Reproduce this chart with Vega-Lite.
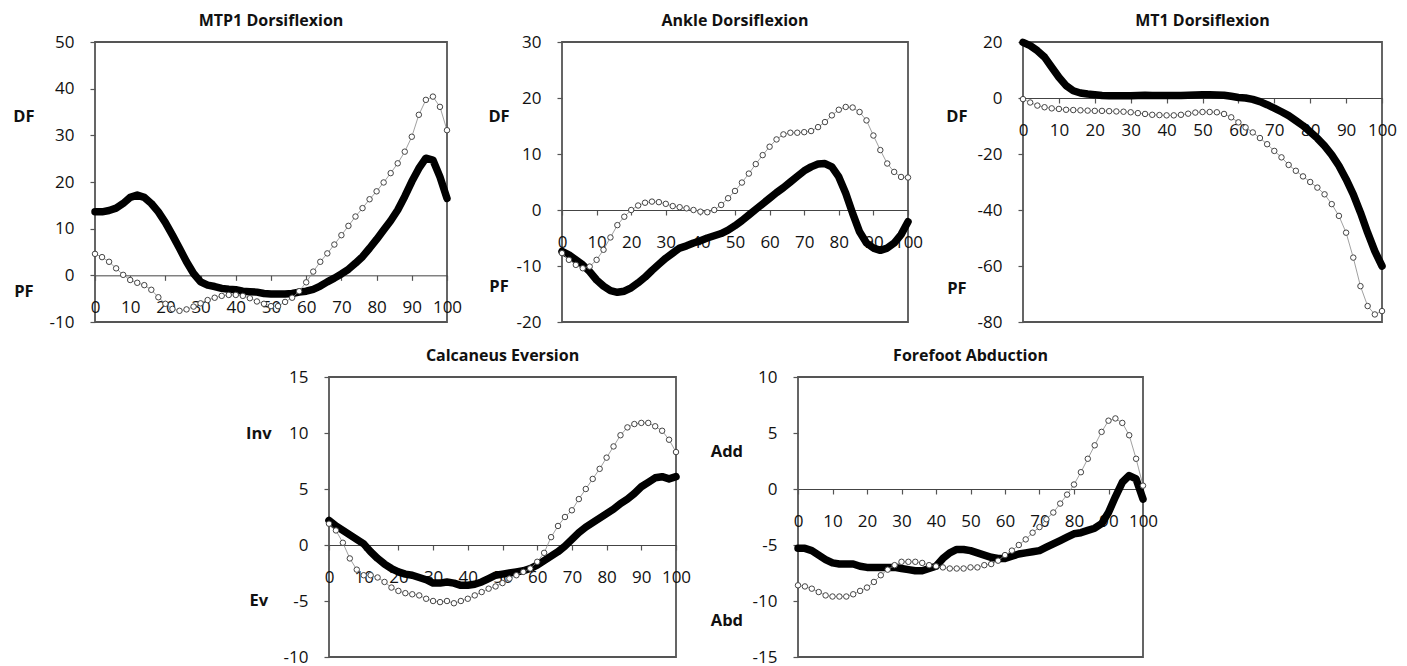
{
  "$schema": "https://vega.github.io/schema/vega-lite/v6.json",
  "background": "white",
  "padding": {"left": 12, "top": 12, "right": 0, "bottom": 0},
  "config": {
    "font": "Open Sans",
    "view": {"stroke": "#555", "strokeWidth": 1.8},
    "axis": {"grid": false, "labelFont": "Open Sans", "labelFontSize": 17, "labelColor": "#111", "tickColor": "#555", "domainColor": "#444", "tickSize": 5, "tickWidth": 1.2},
    "axisY": {"labelExpr": "datum.value < 0 ? '-' + abs(datum.value) : '' + datum.value"},
    "title": {"font": "Open Sans", "fontSize": 16, "fontWeight": "bold", "color": "#111", "offset": 4, "anchor": "middle"},
    "text": {"font": "Open Sans", "fontSize": 16.5, "fontWeight": "bold", "color": "#111"}
  },
  "datasets": {
    "mtp1": [
      {"x":0,"a":13.6,"b":4.6},{"x":2,"a":13.6,"b":3.9},{"x":4,"a":13.9,"b":2.9},{"x":6,"a":14.4,"b":1.5},{"x":8,"a":15.4,"b":0.1},
      {"x":10,"a":16.7,"b":-1.0},{"x":12,"a":17.2,"b":-1.6},{"x":14,"a":16.7,"b":-2.1},{"x":16,"a":15.4,"b":-3.1},{"x":18,"a":13.6,"b":-4.7},
      {"x":20,"a":11.3,"b":-6.1},{"x":22,"a":8.6,"b":-7.2},{"x":24,"a":5.8,"b":-7.6},{"x":26,"a":2.9,"b":-7.3},{"x":28,"a":0.4,"b":-6.7},
      {"x":30,"a":-1.4,"b":-6.0},{"x":32,"a":-2.1,"b":-5.3},{"x":34,"a":-2.4,"b":-4.8},{"x":36,"a":-2.8,"b":-4.4},{"x":38,"a":-3.0,"b":-4.2},
      {"x":40,"a":-3.1,"b":-4.2},{"x":42,"a":-3.4,"b":-4.4},{"x":44,"a":-3.5,"b":-4.9},{"x":46,"a":-3.6,"b":-5.6},{"x":48,"a":-3.9,"b":-6.1},
      {"x":50,"a":-4.0,"b":-6.6},{"x":52,"a":-4.0,"b":-6.6},{"x":54,"a":-4.0,"b":-5.7},{"x":56,"a":-3.9,"b":-4.8},{"x":58,"a":-3.6,"b":-3.4},
      {"x":60,"a":-3.4,"b":-1.5},{"x":62,"a":-3.0,"b":0.8},{"x":64,"a":-2.3,"b":2.9},{"x":66,"a":-1.4,"b":4.7},{"x":68,"a":-0.6,"b":6.6},
      {"x":70,"a":0.3,"b":8.6},{"x":72,"a":1.3,"b":10.6},{"x":74,"a":2.6,"b":12.6},{"x":76,"a":4.0,"b":14.4},{"x":78,"a":5.8,"b":16.3},
      {"x":80,"a":7.7,"b":18.0},{"x":82,"a":9.7,"b":19.9},{"x":84,"a":11.7,"b":21.9},{"x":86,"a":14.0,"b":24.0},{"x":88,"a":16.9,"b":26.5},
      {"x":90,"a":20.1,"b":29.7},{"x":92,"a":22.9,"b":34.4},{"x":94,"a":25.1,"b":37.6},{"x":96,"a":24.7,"b":38.3},{"x":98,"a":21.1,"b":36.1},
      {"x":100,"a":16.5,"b":31.1}
    ],
    "ankle": [
      {"x":0,"a":-7.4,"b":-7.7},{"x":2,"a":-8.0,"b":-8.9},{"x":4,"a":-8.9,"b":-9.8},{"x":6,"a":-9.8,"b":-10.4},{"x":8,"a":-11.0,"b":-10.1},
      {"x":10,"a":-12.5,"b":-8.9},{"x":12,"a":-13.6,"b":-7.1},{"x":14,"a":-14.4,"b":-4.9},{"x":16,"a":-14.7,"b":-2.7},{"x":18,"a":-14.5,"b":-1.2},
      {"x":20,"a":-13.9,"b":0.0},{"x":22,"a":-13.0,"b":0.8},{"x":24,"a":-12.0,"b":1.3},{"x":26,"a":-10.8,"b":1.5},{"x":28,"a":-9.7,"b":1.4},
      {"x":30,"a":-8.6,"b":1.1},{"x":32,"a":-7.7,"b":0.7},{"x":34,"a":-6.8,"b":0.5},{"x":36,"a":-6.4,"b":0.3},{"x":38,"a":-5.9,"b":0.0},
      {"x":40,"a":-5.5,"b":-0.3},{"x":42,"a":-5.0,"b":-0.4},{"x":44,"a":-4.6,"b":0.0},{"x":46,"a":-4.2,"b":0.9},{"x":48,"a":-3.6,"b":2.1},
      {"x":50,"a":-2.8,"b":3.4},{"x":52,"a":-1.9,"b":4.9},{"x":54,"a":-0.9,"b":6.5},{"x":56,"a":0.1,"b":8.2},{"x":58,"a":1.1,"b":9.8},
      {"x":60,"a":2.1,"b":11.3},{"x":62,"a":3.1,"b":12.6},{"x":64,"a":4.0,"b":13.5},{"x":66,"a":5.0,"b":13.8},{"x":68,"a":6.0,"b":13.8},
      {"x":70,"a":7.0,"b":13.9},{"x":72,"a":7.7,"b":14.1},{"x":74,"a":8.2,"b":14.8},{"x":76,"a":8.3,"b":15.7},{"x":78,"a":7.7,"b":16.9},
      {"x":80,"a":5.9,"b":17.9},{"x":82,"a":3.0,"b":18.4},{"x":84,"a":-0.6,"b":18.3},{"x":86,"a":-3.9,"b":17.5},{"x":88,"a":-5.9,"b":16.0},
      {"x":90,"a":-6.8,"b":13.3},{"x":92,"a":-7.2,"b":10.7},{"x":94,"a":-6.8,"b":8.3},{"x":96,"a":-5.9,"b":6.8},{"x":98,"a":-4.4,"b":5.9},
      {"x":100,"a":-2.1,"b":5.8}
    ],
    "mt1": [
      {"x":0,"a":19.9,"b":-0.4},{"x":2,"a":18.7,"b":-1.6},{"x":4,"a":16.9,"b":-2.7},{"x":6,"a":14.6,"b":-3.3},{"x":8,"a":11.0,"b":-3.7},
      {"x":10,"a":7.4,"b":-3.9},{"x":12,"a":4.4,"b":-4.2},{"x":14,"a":2.6,"b":-4.3},{"x":16,"a":1.8,"b":-4.4},{"x":18,"a":1.4,"b":-4.5},
      {"x":20,"a":1.2,"b":-4.6},{"x":22,"a":0.9,"b":-4.6},{"x":24,"a":0.8,"b":-4.7},{"x":26,"a":0.8,"b":-4.8},{"x":28,"a":0.8,"b":-4.9},
      {"x":30,"a":0.8,"b":-5.1},{"x":32,"a":0.9,"b":-5.4},{"x":34,"a":1.0,"b":-5.7},{"x":36,"a":0.9,"b":-6.0},{"x":38,"a":0.9,"b":-6.1},
      {"x":40,"a":0.9,"b":-6.2},{"x":42,"a":0.9,"b":-6.2},{"x":44,"a":0.9,"b":-6.0},{"x":46,"a":1.0,"b":-5.6},{"x":48,"a":1.1,"b":-5.2},
      {"x":50,"a":1.2,"b":-5.0},{"x":52,"a":1.2,"b":-5.0},{"x":54,"a":1.1,"b":-5.1},{"x":56,"a":1.0,"b":-5.7},{"x":58,"a":0.6,"b":-6.9},
      {"x":60,"a":0.2,"b":-8.7},{"x":62,"a":0.0,"b":-10.5},{"x":64,"a":-0.5,"b":-12.3},{"x":66,"a":-1.3,"b":-14.3},{"x":68,"a":-2.4,"b":-16.5},
      {"x":70,"a":-3.6,"b":-18.9},{"x":72,"a":-4.9,"b":-21.2},{"x":74,"a":-6.3,"b":-23.9},{"x":76,"a":-8.1,"b":-26.0},{"x":78,"a":-9.9,"b":-28.0},
      {"x":80,"a":-12.1,"b":-30.0},{"x":82,"a":-14.4,"b":-32.0},{"x":84,"a":-17.1,"b":-34.4},{"x":86,"a":-20.3,"b":-37.9},{"x":88,"a":-24.2,"b":-42.1},
      {"x":90,"a":-29.0,"b":-48.1},{"x":92,"a":-34.4,"b":-57.0},{"x":94,"a":-40.9,"b":-67.2},{"x":96,"a":-48.1,"b":-74.3},{"x":98,"a":-54.7,"b":-77.3},
      {"x":100,"a":-60.0,"b":-76.1}
    ],
    "calc": [
      {"x":0,"a":2.2,"b":1.9},{"x":2,"a":1.7,"b":1.3},{"x":4,"a":1.3,"b":0.2},{"x":6,"a":0.9,"b":-1.2},{"x":8,"a":0.5,"b":-2.2},
      {"x":10,"a":0.1,"b":-2.7},{"x":12,"a":-0.6,"b":-2.7},{"x":14,"a":-1.2,"b":-2.9},{"x":16,"a":-1.7,"b":-3.3},{"x":18,"a":-2.1,"b":-3.8},
      {"x":20,"a":-2.4,"b":-4.1},{"x":22,"a":-2.6,"b":-4.3},{"x":24,"a":-2.7,"b":-4.4},{"x":26,"a":-2.9,"b":-4.5},{"x":28,"a":-3.1,"b":-4.8},
      {"x":30,"a":-3.4,"b":-5.0},{"x":32,"a":-3.4,"b":-5.1},{"x":34,"a":-3.3,"b":-5.0},{"x":36,"a":-3.4,"b":-5.2},{"x":38,"a":-3.6,"b":-5.0},
      {"x":40,"a":-3.6,"b":-4.8},{"x":42,"a":-3.5,"b":-4.5},{"x":44,"a":-3.3,"b":-4.2},{"x":46,"a":-3.0,"b":-3.9},{"x":48,"a":-2.7,"b":-3.7},
      {"x":50,"a":-2.6,"b":-3.4},{"x":52,"a":-2.5,"b":-3.0},{"x":54,"a":-2.4,"b":-2.7},{"x":56,"a":-2.3,"b":-2.4},{"x":58,"a":-2.1,"b":-2.1},
      {"x":60,"a":-1.8,"b":-1.5},{"x":62,"a":-1.4,"b":-0.7},{"x":64,"a":-1.0,"b":0.7},{"x":66,"a":-0.6,"b":1.7},{"x":68,"a":-0.1,"b":2.5},
      {"x":70,"a":0.5,"b":3.1},{"x":72,"a":1.1,"b":4.1},{"x":74,"a":1.6,"b":5.0},{"x":76,"a":2.0,"b":5.9},{"x":78,"a":2.4,"b":6.8},
      {"x":80,"a":2.8,"b":7.8},{"x":82,"a":3.2,"b":8.8},{"x":84,"a":3.7,"b":9.8},{"x":86,"a":4.1,"b":10.5},{"x":88,"a":4.6,"b":10.8},
      {"x":90,"a":5.2,"b":10.9},{"x":92,"a":5.6,"b":10.9},{"x":94,"a":6.0,"b":10.6},{"x":96,"a":6.1,"b":10.2},{"x":98,"a":5.9,"b":9.4},
      {"x":100,"a":6.1,"b":8.3}
    ],
    "forefoot": [
      {"x":0,"a":-5.3,"b":-8.6},{"x":2,"a":-5.3,"b":-8.7},{"x":4,"a":-5.5,"b":-8.9},{"x":6,"a":-5.9,"b":-9.2},{"x":8,"a":-6.3,"b":-9.5},
      {"x":10,"a":-6.6,"b":-9.6},{"x":12,"a":-6.7,"b":-9.6},{"x":14,"a":-6.7,"b":-9.6},{"x":16,"a":-6.7,"b":-9.4},{"x":18,"a":-6.9,"b":-9.1},
      {"x":20,"a":-7.0,"b":-8.8},{"x":22,"a":-7.0,"b":-8.3},{"x":24,"a":-7.0,"b":-7.7},{"x":26,"a":-7.0,"b":-7.2},{"x":28,"a":-7.0,"b":-6.8},
      {"x":30,"a":-7.1,"b":-6.5},{"x":32,"a":-7.2,"b":-6.5},{"x":34,"a":-7.3,"b":-6.5},{"x":36,"a":-7.3,"b":-6.6},{"x":38,"a":-7.1,"b":-6.8},
      {"x":40,"a":-6.9,"b":-6.9},{"x":42,"a":-6.2,"b":-7.0},{"x":44,"a":-5.7,"b":-7.1},{"x":46,"a":-5.4,"b":-7.1},{"x":48,"a":-5.4,"b":-7.1},
      {"x":50,"a":-5.5,"b":-7.0},{"x":52,"a":-5.7,"b":-7.0},{"x":54,"a":-5.9,"b":-6.8},{"x":56,"a":-6.1,"b":-6.7},{"x":58,"a":-6.2,"b":-6.4},
      {"x":60,"a":-6.2,"b":-5.9},{"x":62,"a":-6.0,"b":-5.5},{"x":64,"a":-5.8,"b":-5.0},{"x":66,"a":-5.7,"b":-4.5},{"x":68,"a":-5.6,"b":-3.9},
      {"x":70,"a":-5.5,"b":-3.4},{"x":72,"a":-5.2,"b":-2.7},{"x":74,"a":-4.9,"b":-2.1},{"x":76,"a":-4.6,"b":-1.3},{"x":78,"a":-4.3,"b":-0.5},
      {"x":80,"a":-4.0,"b":0.4},{"x":82,"a":-3.9,"b":1.5},{"x":84,"a":-3.7,"b":2.7},{"x":86,"a":-3.5,"b":3.9},{"x":88,"a":-3.1,"b":5.1},
      {"x":90,"a":-2.1,"b":6.1},{"x":92,"a":-0.7,"b":6.3},{"x":94,"a":0.6,"b":5.9},{"x":96,"a":1.2,"b":4.8},{"x":98,"a":0.9,"b":2.7},
      {"x":100,"a":-0.9,"b":0.3}
    ]
  },
  "vconcat": [
    {
      "hconcat": [
        {
          "title": {"text": "MTP1 Dorsiflexion"},
          "width": 352, "height": 280,
          "data": {"name": "mtp1"},
          "layer": [
            {"mark": {"type": "line", "color": "#000", "strokeWidth": 7.5, "strokeJoin": "round", "strokeCap": "round"},
             "encoding": {
               "x": {"field": "x", "type": "quantitative", "title": null, "scale": {"domain": [0, 100], "nice": false}, "axis": {"values": [0,10,20,30,40,50,60,70,80,90,100], "tickCount": 11, "offset": -46.67, "labelPadding": 19, "labelFlush": false, "labelOverlap": false, "title": null}},
               "y": {"field": "a", "type": "quantitative", "title": null, "scale": {"domain": [-10, 50], "nice": false}, "axis": {"values": [-10,0,10,20,30,40,50], "domain": false, "labelPadding": 16, "labelOverlap": false, "title": null}}
             }},
            {"mark": {"type": "line", "color": "#888", "strokeWidth": 0.8},
             "encoding": {
               "x": {"field": "x", "type": "quantitative", "title": null, "scale": {"domain": [0, 100], "nice": false}, "axis": {"values": [0,10,20,30,40,50,60,70,80,90,100], "tickCount": 11, "offset": -46.67, "labelPadding": 19, "labelFlush": false, "labelOverlap": false, "title": null}},
               "y": {"field": "b", "type": "quantitative", "title": null, "scale": {"domain": [-10, 50], "nice": false}, "axis": {"values": [-10,0,10,20,30,40,50], "domain": false, "labelPadding": 16, "labelOverlap": false, "title": null}}
             }},
            {"mark": {"type": "point", "shape": "circle", "filled": true, "fill": "white", "stroke": "#444", "strokeWidth": 1, "size": 30, "opacity": 1},
             "encoding": {
               "x": {"field": "x", "type": "quantitative", "title": null, "scale": {"domain": [0, 100], "nice": false}, "axis": {"values": [0,10,20,30,40,50,60,70,80,90,100], "tickCount": 11, "offset": -46.67, "labelPadding": 19, "labelFlush": false, "labelOverlap": false, "title": null}},
               "y": {"field": "b", "type": "quantitative", "title": null, "scale": {"domain": [-10, 50], "nice": false}, "axis": {"values": [-10,0,10,20,30,40,50], "domain": false, "labelPadding": 16, "labelOverlap": false, "title": null}}
             }},
            {"data": {"values": [{"t": "DF", "p": 34}, {"t": "PF", "p": -3.6}]}, "mark": {"type": "text", "align": "center", "baseline": "middle"},
             "encoding": {
               "x": {"datum": -20.2, "type": "quantitative", "title": null, "scale": {"domain": [0, 100], "nice": false}, "axis": {"values": [0,10,20,30,40,50,60,70,80,90,100], "tickCount": 11, "offset": -46.67, "labelPadding": 19, "labelFlush": false, "labelOverlap": false, "title": null}},
               "y": {"field": "p", "type": "quantitative", "title": null, "scale": {"domain": [-10, 50], "nice": false}, "axis": {"values": [-10,0,10,20,30,40,50], "domain": false, "labelPadding": 16, "labelOverlap": false, "title": null}},
               "text": {"field": "t"}}}
          ]
        },
        {
          "title": {"text": "Ankle Dorsiflexion"},
          "width": 346, "height": 280,
          "data": {"name": "ankle"},
          "layer": [
            {"mark": {"type": "line", "color": "#000", "strokeWidth": 7.5, "strokeJoin": "round", "strokeCap": "round"},
             "encoding": {
               "x": {"field": "x", "type": "quantitative", "title": null, "scale": {"domain": [0, 100], "nice": false}, "axis": {"values": [0,10,20,30,40,50,60,70,80,90,100], "tickCount": 11, "offset": -112, "labelPadding": 19, "labelFlush": false, "labelOverlap": false, "title": null}},
               "y": {"field": "a", "type": "quantitative", "title": null, "scale": {"domain": [-20, 30], "nice": false}, "axis": {"values": [-20,-10,0,10,20,30], "domain": false, "labelPadding": 16, "labelOverlap": false, "title": null}}
             }},
            {"mark": {"type": "line", "color": "#888", "strokeWidth": 0.8},
             "encoding": {
               "x": {"field": "x", "type": "quantitative", "title": null, "scale": {"domain": [0, 100], "nice": false}, "axis": {"values": [0,10,20,30,40,50,60,70,80,90,100], "tickCount": 11, "offset": -112, "labelPadding": 19, "labelFlush": false, "labelOverlap": false, "title": null}},
               "y": {"field": "b", "type": "quantitative", "title": null, "scale": {"domain": [-20, 30], "nice": false}, "axis": {"values": [-20,-10,0,10,20,30], "domain": false, "labelPadding": 16, "labelOverlap": false, "title": null}}
             }},
            {"mark": {"type": "point", "shape": "circle", "filled": true, "fill": "white", "stroke": "#444", "strokeWidth": 1, "size": 30, "opacity": 1},
             "encoding": {
               "x": {"field": "x", "type": "quantitative", "title": null, "scale": {"domain": [0, 100], "nice": false}, "axis": {"values": [0,10,20,30,40,50,60,70,80,90,100], "tickCount": 11, "offset": -112, "labelPadding": 19, "labelFlush": false, "labelOverlap": false, "title": null}},
               "y": {"field": "b", "type": "quantitative", "title": null, "scale": {"domain": [-20, 30], "nice": false}, "axis": {"values": [-20,-10,0,10,20,30], "domain": false, "labelPadding": 16, "labelOverlap": false, "title": null}}
             }},
            {"data": {"values": [{"t": "DF", "p": 16.6}, {"t": "PF", "p": -13.8}]}, "mark": {"type": "text", "align": "center", "baseline": "middle"},
             "encoding": {
               "x": {"datum": -18.2, "type": "quantitative", "title": null, "scale": {"domain": [0, 100], "nice": false}, "axis": {"values": [0,10,20,30,40,50,60,70,80,90,100], "tickCount": 11, "offset": -112, "labelPadding": 19, "labelFlush": false, "labelOverlap": false, "title": null}},
               "y": {"field": "p", "type": "quantitative", "title": null, "scale": {"domain": [-20, 30], "nice": false}, "axis": {"values": [-20,-10,0,10,20,30], "domain": false, "labelPadding": 16, "labelOverlap": false, "title": null}},
               "text": {"field": "t"}}}
          ]
        },
        {
          "title": {"text": "MT1 Dorsiflexion"},
          "width": 359, "height": 280,
          "data": {"name": "mt1"},
          "layer": [
            {"mark": {"type": "line", "color": "#000", "strokeWidth": 7.5, "strokeJoin": "round", "strokeCap": "round"},
             "encoding": {
               "x": {"field": "x", "type": "quantitative", "title": null, "scale": {"domain": [0, 100], "nice": false}, "axis": {"values": [0,10,20,30,40,50,60,70,80,90,100], "tickCount": 11, "offset": -224, "labelPadding": 19, "labelFlush": false, "labelOverlap": false, "title": null}},
               "y": {"field": "a", "type": "quantitative", "title": null, "scale": {"domain": [-80, 20], "nice": false}, "axis": {"values": [-80,-60,-40,-20,0,20], "domain": false, "labelPadding": 16, "labelOverlap": false, "title": null}}
             }},
            {"mark": {"type": "line", "color": "#888", "strokeWidth": 0.8},
             "encoding": {
               "x": {"field": "x", "type": "quantitative", "title": null, "scale": {"domain": [0, 100], "nice": false}, "axis": {"values": [0,10,20,30,40,50,60,70,80,90,100], "tickCount": 11, "offset": -224, "labelPadding": 19, "labelFlush": false, "labelOverlap": false, "title": null}},
               "y": {"field": "b", "type": "quantitative", "title": null, "scale": {"domain": [-80, 20], "nice": false}, "axis": {"values": [-80,-60,-40,-20,0,20], "domain": false, "labelPadding": 16, "labelOverlap": false, "title": null}}
             }},
            {"mark": {"type": "point", "shape": "circle", "filled": true, "fill": "white", "stroke": "#444", "strokeWidth": 1, "size": 30, "opacity": 1},
             "encoding": {
               "x": {"field": "x", "type": "quantitative", "title": null, "scale": {"domain": [0, 100], "nice": false}, "axis": {"values": [0,10,20,30,40,50,60,70,80,90,100], "tickCount": 11, "offset": -224, "labelPadding": 19, "labelFlush": false, "labelOverlap": false, "title": null}},
               "y": {"field": "b", "type": "quantitative", "title": null, "scale": {"domain": [-80, 20], "nice": false}, "axis": {"values": [-80,-60,-40,-20,0,20], "domain": false, "labelPadding": 16, "labelOverlap": false, "title": null}}
             }},
            {"data": {"values": [{"t": "DF", "p": -6.8}, {"t": "PF", "p": -68.2}]}, "mark": {"type": "text", "align": "center", "baseline": "middle"},
             "encoding": {
               "x": {"datum": -18.4, "type": "quantitative", "title": null, "scale": {"domain": [0, 100], "nice": false}, "axis": {"values": [0,10,20,30,40,50,60,70,80,90,100], "tickCount": 11, "offset": -224, "labelPadding": 19, "labelFlush": false, "labelOverlap": false, "title": null}},
               "y": {"field": "p", "type": "quantitative", "title": null, "scale": {"domain": [-80, 20], "nice": false}, "axis": {"values": [-80,-60,-40,-20,0,20], "domain": false, "labelPadding": 16, "labelOverlap": false, "title": null}},
               "text": {"field": "t"}}}
          ]
        }
      ],
      "spacing": 115,
      "bounds": "flush"
    },
    {
      "hconcat": [
        {
          "width": 112, "height": 280,
          "view": {"stroke": null},
          "data": {"values": []},
          "mark": "point"
        },
        {
          "title": {"text": "Calcaneus Eversion"},
          "width": 347, "height": 280,
          "data": {"name": "calc"},
          "layer": [
            {"mark": {"type": "line", "color": "#000", "strokeWidth": 7.5, "strokeJoin": "round", "strokeCap": "round"},
             "encoding": {
               "x": {"field": "x", "type": "quantitative", "title": null, "scale": {"domain": [0, 100], "nice": false}, "axis": {"values": [0,10,20,30,40,50,60,70,80,90,100], "tickCount": 11, "offset": -112, "labelPadding": 19, "labelFlush": false, "labelOverlap": false, "title": null}},
               "y": {"field": "a", "type": "quantitative", "title": null, "scale": {"domain": [-10, 15], "nice": false}, "axis": {"values": [-10,-5,0,5,10,15], "domain": false, "labelPadding": 16, "labelOverlap": false, "title": null}}
             }},
            {"mark": {"type": "line", "color": "#888", "strokeWidth": 0.8},
             "encoding": {
               "x": {"field": "x", "type": "quantitative", "title": null, "scale": {"domain": [0, 100], "nice": false}, "axis": {"values": [0,10,20,30,40,50,60,70,80,90,100], "tickCount": 11, "offset": -112, "labelPadding": 19, "labelFlush": false, "labelOverlap": false, "title": null}},
               "y": {"field": "b", "type": "quantitative", "title": null, "scale": {"domain": [-10, 15], "nice": false}, "axis": {"values": [-10,-5,0,5,10,15], "domain": false, "labelPadding": 16, "labelOverlap": false, "title": null}}
             }},
            {"mark": {"type": "point", "shape": "circle", "filled": true, "fill": "white", "stroke": "#444", "strokeWidth": 1, "size": 30, "opacity": 1},
             "encoding": {
               "x": {"field": "x", "type": "quantitative", "title": null, "scale": {"domain": [0, 100], "nice": false}, "axis": {"values": [0,10,20,30,40,50,60,70,80,90,100], "tickCount": 11, "offset": -112, "labelPadding": 19, "labelFlush": false, "labelOverlap": false, "title": null}},
               "y": {"field": "b", "type": "quantitative", "title": null, "scale": {"domain": [-10, 15], "nice": false}, "axis": {"values": [-10,-5,0,5,10,15], "domain": false, "labelPadding": 16, "labelOverlap": false, "title": null}}
             }},
            {"data": {"values": [{"t": "Inv", "p": 9.9}, {"t": "Ev", "p": -5.0}]}, "mark": {"type": "text", "align": "center", "baseline": "middle"},
             "encoding": {
               "x": {"datum": -20.2, "type": "quantitative", "title": null, "scale": {"domain": [0, 100], "nice": false}, "axis": {"values": [0,10,20,30,40,50,60,70,80,90,100], "tickCount": 11, "offset": -112, "labelPadding": 19, "labelFlush": false, "labelOverlap": false, "title": null}},
               "y": {"field": "p", "type": "quantitative", "title": null, "scale": {"domain": [-10, 15], "nice": false}, "axis": {"values": [-10,-5,0,5,10,15], "domain": false, "labelPadding": 16, "labelOverlap": false, "title": null}},
               "text": {"field": "t"}}}
          ]
        },
        {
          "title": {"text": "Forefoot Abduction"},
          "width": 345, "height": 280,
          "data": {"name": "forefoot"},
          "layer": [
            {"mark": {"type": "line", "color": "#000", "strokeWidth": 7.5, "strokeJoin": "round", "strokeCap": "round"},
             "encoding": {
               "x": {"field": "x", "type": "quantitative", "title": null, "scale": {"domain": [0, 100], "nice": false}, "axis": {"values": [0,10,20,30,40,50,60,70,80,90,100], "tickCount": 11, "offset": -168, "labelPadding": 19, "labelFlush": false, "labelOverlap": false, "title": null}},
               "y": {"field": "a", "type": "quantitative", "title": null, "scale": {"domain": [-15, 10], "nice": false}, "axis": {"values": [-15,-10,-5,0,5,10], "domain": false, "labelPadding": 16, "labelOverlap": false, "title": null}}
             }},
            {"mark": {"type": "line", "color": "#888", "strokeWidth": 0.8},
             "encoding": {
               "x": {"field": "x", "type": "quantitative", "title": null, "scale": {"domain": [0, 100], "nice": false}, "axis": {"values": [0,10,20,30,40,50,60,70,80,90,100], "tickCount": 11, "offset": -168, "labelPadding": 19, "labelFlush": false, "labelOverlap": false, "title": null}},
               "y": {"field": "b", "type": "quantitative", "title": null, "scale": {"domain": [-15, 10], "nice": false}, "axis": {"values": [-15,-10,-5,0,5,10], "domain": false, "labelPadding": 16, "labelOverlap": false, "title": null}}
             }},
            {"mark": {"type": "point", "shape": "circle", "filled": true, "fill": "white", "stroke": "#444", "strokeWidth": 1, "size": 30, "opacity": 1},
             "encoding": {
               "x": {"field": "x", "type": "quantitative", "title": null, "scale": {"domain": [0, 100], "nice": false}, "axis": {"values": [0,10,20,30,40,50,60,70,80,90,100], "tickCount": 11, "offset": -168, "labelPadding": 19, "labelFlush": false, "labelOverlap": false, "title": null}},
               "y": {"field": "b", "type": "quantitative", "title": null, "scale": {"domain": [-15, 10], "nice": false}, "axis": {"values": [-15,-10,-5,0,5,10], "domain": false, "labelPadding": 16, "labelOverlap": false, "title": null}}
             }},
            {"data": {"values": [{"t": "Add", "p": 3.3}, {"t": "Abd", "p": -11.8}]}, "mark": {"type": "text", "align": "center", "baseline": "middle"},
             "encoding": {
               "x": {"datum": -20.6, "type": "quantitative", "title": null, "scale": {"domain": [0, 100], "nice": false}, "axis": {"values": [0,10,20,30,40,50,60,70,80,90,100], "tickCount": 11, "offset": -168, "labelPadding": 19, "labelFlush": false, "labelOverlap": false, "title": null}},
               "y": {"field": "p", "type": "quantitative", "title": null, "scale": {"domain": [-15, 10], "nice": false}, "axis": {"values": [-15,-10,-5,0,5,10], "domain": false, "labelPadding": 16, "labelOverlap": false, "title": null}},
               "text": {"field": "t"}}}
          ]
        }
      ],
      "spacing": 122,
      "bounds": "flush"
    }
  ],
  "spacing": 16
}
